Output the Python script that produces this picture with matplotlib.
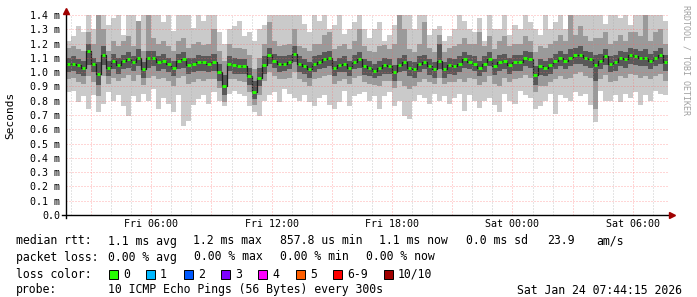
import numpy as np
import matplotlib
matplotlib.use("Agg")
import matplotlib.pyplot as plt
from matplotlib.patches import Rectangle

# 120 samples, 15 min each, starting Fri 01:45 (hours since Fri 00:00)
start_hour = 1.75
step_hour = 0.25

median_ms = [
    1.06, 1.06, 1.05, 1.03, 1.15, 1.06, 0.99, 1.12, 1.03, 1.08, 1.05, 1.08, 1.09, 1.07, 1.1,
    1.02, 1.1, 1.1, 1.07, 1.08, 1.06, 1.03, 1.08, 1.09, 1.05, 1.06, 1.07, 1.07, 1.06, 1.07,
    1.0, 0.9, 1.06, 1.05, 1.04, 1.04, 0.97, 0.86, 0.96, 1.05, 1.12, 1.08, 1.06, 1.06, 1.07,
    1.13, 1.06, 1.04, 1.02, 1.06, 1.07, 1.09, 1.1, 1.03, 1.05, 1.06, 1.03, 1.07, 1.09, 1.04,
    1.03, 1.01, 1.03, 1.05, 1.04, 1.0, 1.05, 1.07, 1.03, 1.02, 1.06, 1.07, 1.04, 1.02, 1.08,
    1.02, 1.05, 1.04, 1.06, 1.09, 1.07, 1.06, 1.03, 1.06, 1.09, 1.04, 1.07, 1.08, 1.05, 1.07,
    1.07, 1.1, 1.09, 0.98, 1.04, 1.03, 1.05, 1.08, 1.1, 1.08, 1.1, 1.12, 1.12, 1.1, 1.09,
    1.05, 1.08, 1.11, 1.06, 1.07, 1.1, 1.09, 1.12, 1.11, 1.1, 1.1, 1.08, 1.1, 1.12, 1.07,
]

# outer smoke (fastest / slowest ping)
smoke_lo1 = [
    0.86, 0.87, 0.79, 0.83, 0.74, 0.84, 0.72, 0.78, 0.86, 0.8, 0.84, 0.76, 0.69, 0.83, 0.79,
    0.85, 0.8, 0.88, 0.74, 0.82, 0.78, 0.72, 0.84, 0.62, 0.66, 0.77, 0.81, 0.84, 0.78, 0.86,
    0.8, 0.76, 0.85, 0.87, 0.85, 0.83, 0.76, 0.72, 0.69, 0.8, 0.84, 0.86, 0.79, 0.88, 0.85,
    0.82, 0.8, 0.84, 0.79, 0.76, 0.82, 0.84, 0.77, 0.74, 0.79, 0.87, 0.76, 0.83, 0.85, 0.86,
    0.8, 0.83, 0.74, 0.83, 0.86, 0.76, 0.8, 0.69, 0.67, 0.8, 0.84, 0.82, 0.78, 0.85, 0.8,
    0.83, 0.78, 0.82, 0.85, 0.73, 0.84, 0.8, 0.75, 0.8, 0.82, 0.77, 0.72, 0.85, 0.8, 0.78,
    0.87, 0.84, 0.82, 0.74, 0.76, 0.8, 0.85, 0.71, 0.84, 0.82, 0.8, 0.86, 0.83, 0.85, 0.77,
    0.65, 0.87, 0.8, 0.8, 0.84, 0.79, 0.85, 0.82, 0.86, 0.77, 0.84, 0.8, 0.87, 0.85, 0.84,
]
smoke_hi1 = [
    1.22, 1.25, 1.32, 1.28, 1.4, 1.3, 1.4, 1.4, 1.33, 1.38, 1.4, 1.26, 1.4, 1.4, 1.32,
    1.4, 1.4, 1.4, 1.4, 1.35, 1.4, 1.29, 1.4, 1.4, 1.4, 1.31, 1.4, 1.36, 1.4, 1.4,
    1.28, 1.2, 1.3, 1.32, 1.36, 1.25, 1.28, 1.22, 1.3, 1.33, 1.4, 1.4, 1.4, 1.4, 1.4,
    1.4, 1.4, 1.34, 1.28, 1.4, 1.36, 1.4, 1.3, 1.33, 1.4, 1.27, 1.3, 1.35, 1.4, 1.3,
    1.24, 1.3, 1.35, 1.22, 1.26, 1.33, 1.4, 1.4, 1.4, 1.3, 1.4, 1.4, 1.26, 1.3, 1.32,
    1.22, 1.25, 1.3, 1.4, 1.36, 1.3, 1.28, 1.38, 1.22, 1.4, 1.3, 1.3, 1.4, 1.26, 1.33,
    1.3, 1.4, 1.35, 1.3, 1.26, 1.4, 1.3, 1.35, 1.4, 1.3, 1.4, 1.4, 1.4, 1.4, 1.4,
    1.4, 1.4, 1.34, 1.4, 1.4, 1.38, 1.4, 1.33, 1.4, 1.4, 1.4, 1.4, 1.4, 1.4, 1.36,
]

# middle smoke
smoke_lo2 = [
    0.95, 0.96, 0.93, 0.92, 0.97, 0.93, 0.83, 0.97, 0.92, 0.96, 0.94, 0.96, 0.98, 0.94, 0.98,
    0.91, 0.96, 0.97, 0.95, 0.96, 0.94, 0.9, 0.96, 0.97, 0.92, 0.93, 0.95, 0.94, 0.95, 0.95,
    0.89, 0.79, 0.95, 0.95, 0.94, 0.93, 0.86, 0.77, 0.84, 0.94, 1.0, 0.97, 0.95, 0.95, 0.96,
    1.0, 0.95, 0.93, 0.9, 0.95, 0.96, 0.97, 0.98, 0.92, 0.94, 0.95, 0.92, 0.96, 0.97, 0.93,
    0.92, 0.91, 0.9, 0.94, 0.94, 0.89, 0.94, 0.9, 0.88, 0.9, 0.93, 0.95, 0.93, 0.92, 0.96,
    0.92, 0.93, 0.93, 0.95, 0.93, 0.96, 0.95, 0.91, 0.93, 0.97, 0.92, 0.9, 0.96, 0.93, 0.95,
    0.96, 0.98, 0.96, 0.86, 0.9, 0.9, 0.93, 0.95, 0.97, 0.95, 0.96, 0.99, 1.0, 0.97, 0.96,
    0.74, 0.95, 0.98, 0.93, 0.94, 0.97, 0.96, 0.99, 0.98, 0.96, 0.97, 0.95, 0.97, 0.99, 0.94,
]
smoke_hi2 = [
    1.17, 1.18, 1.16, 1.15, 1.28, 1.2, 1.4, 1.3, 1.15, 1.22, 1.18, 1.22, 1.25, 1.18, 1.36,
    1.15, 1.4, 1.24, 1.2, 1.22, 1.18, 1.15, 1.22, 1.24, 1.17, 1.2, 1.21, 1.19, 1.2, 1.3,
    1.15, 1.08, 1.2, 1.17, 1.17, 1.16, 1.12, 1.02, 1.1, 1.2, 1.35, 1.22, 1.18, 1.19, 1.2,
    1.3, 1.18, 1.17, 1.15, 1.2, 1.2, 1.26, 1.28, 1.16, 1.18, 1.2, 1.16, 1.22, 1.3, 1.18,
    1.15, 1.14, 1.18, 1.19, 1.16, 1.2, 1.4, 1.3, 1.16, 1.14, 1.2, 1.35, 1.17, 1.14, 1.26,
    1.14, 1.17, 1.18, 1.2, 1.24, 1.2, 1.2, 1.28, 1.18, 1.25, 1.16, 1.22, 1.25, 1.18, 1.2,
    1.2, 1.25, 1.22, 1.14, 1.18, 1.17, 1.2, 1.22, 1.26, 1.22, 1.4, 1.26, 1.32, 1.25, 1.22,
    1.24, 1.24, 1.28, 1.2, 1.22, 1.26, 1.22, 1.28, 1.28, 1.25, 1.4, 1.22, 1.28, 1.3, 1.2,
]

# inner smoke (pings around the median)
smoke_lo3 = [
    1.0, 1.01, 0.99, 0.97, 1.05, 1.0, 0.91, 1.05, 0.97, 1.02, 0.99, 1.02, 1.03, 1.01, 1.04,
    0.96, 1.03, 1.04, 1.01, 1.02, 1.0, 0.97, 1.02, 1.03, 0.99, 1.0, 1.01, 1.01, 1.0, 1.01,
    0.94, 0.84, 1.01, 0.99, 0.99, 0.99, 0.91, 0.81, 0.9, 0.99, 1.06, 1.03, 1.0, 1.01, 1.02,
    1.07, 1.0, 0.99, 0.96, 1.0, 1.02, 1.03, 1.04, 0.97, 1.0, 1.0, 0.97, 1.02, 1.03, 0.98,
    0.97, 0.96, 0.97, 0.99, 0.99, 0.94, 1.0, 1.01, 0.97, 0.96, 1.0, 1.02, 0.98, 0.96, 1.02,
    0.96, 0.99, 0.98, 1.0, 1.03, 1.02, 1.01, 0.97, 1.0, 1.04, 0.98, 1.01, 1.02, 0.99, 1.01,
    1.01, 1.04, 1.03, 0.91, 0.98, 0.97, 0.99, 1.02, 1.04, 1.02, 1.04, 1.06, 1.06, 1.04, 1.03,
    0.94, 1.02, 1.05, 1.0, 1.01, 1.04, 1.03, 1.06, 1.05, 1.04, 1.04, 1.02, 1.04, 1.06, 1.01,
]
smoke_hi3 = [
    1.1, 1.11, 1.09, 1.08, 1.2, 1.1, 1.07, 1.18, 1.08, 1.13, 1.1, 1.12, 1.14, 1.11, 1.16,
    1.07, 1.15, 1.15, 1.11, 1.13, 1.1, 1.08, 1.13, 1.14, 1.1, 1.1, 1.12, 1.11, 1.11, 1.13,
    1.06, 0.98, 1.11, 1.1, 1.09, 1.09, 1.03, 0.94, 1.03, 1.11, 1.17, 1.13, 1.11, 1.11, 1.12,
    1.18, 1.11, 1.09, 1.07, 1.11, 1.12, 1.14, 1.15, 1.08, 1.1, 1.11, 1.08, 1.12, 1.14, 1.09,
    1.08, 1.06, 1.08, 1.1, 1.09, 1.05, 1.1, 1.12, 1.08, 1.07, 1.11, 1.12, 1.09, 1.07, 1.2,
    1.07, 1.1, 1.09, 1.11, 1.14, 1.12, 1.11, 1.08, 1.11, 1.14, 1.09, 1.12, 1.13, 1.1, 1.12,
    1.12, 1.15, 1.14, 1.04, 1.09, 1.08, 1.1, 1.13, 1.15, 1.13, 1.16, 1.17, 1.18, 1.15, 1.14,
    1.12, 1.13, 1.16, 1.11, 1.12, 1.15, 1.14, 1.17, 1.16, 1.15, 1.16, 1.13, 1.15, 1.17, 1.12,
]

y_ticks = [0.0, 0.1, 0.2, 0.3, 0.4, 0.5, 0.6, 0.7, 0.8, 0.9, 1.0, 1.1, 1.2, 1.3, 1.4]
x_ticks = [6, 12, 18, 24, 30]
x_tick_labels = ["Fri 06:00", "Fri 12:00", "Fri 18:00", "Sat 00:00", "Sat 06:00"]

loss_labels = ["0", "1", "2", "3", "4", "5", "6-9", "10/10"]
loss_colors = ["#26ff00", "#00b8ff", "#0059ff", "#7e00ff", "#ff00ff", "#ff5e00", "#ff0000", "#a10000"]

MONO = "DejaVu Sans Mono"
W, H = 697, 297


def ext(values):
    # repeat last value so step fills cover the last interval
    return np.append(values, values[-1])


def px_text(fig, x, y, s, **kw):
    fig.text(x / W, 1 - y / H, s, family=MONO, va="center", **kw)


fig = plt.figure(figsize=(W / 100, H / 100), dpi=100)
fig.patch.set_facecolor("white")
ax = fig.add_axes([66 / W, 82 / H, 602 / W, 200 / H])

n = len(median_ms)
t = start_hour + step_hour * np.arange(n + 1)
end_hour = t[-1]

ax.fill_between(t, ext(smoke_lo1), ext(smoke_hi1), step="post", color="#cacaca", lw=0, zorder=1)
ax.fill_between(t, ext(smoke_lo2), ext(smoke_hi2), step="post", color="#9a9a9a", lw=0, zorder=2)
ax.fill_between(t, ext(smoke_lo3), ext(smoke_hi3), step="post", color="#585858", lw=0, zorder=3)
ax.step(t, ext(median_ms), where="post", color="#1e1e1e", lw=0.9, zorder=4)
ax.hlines(median_ms, t[:-1] + 0.04, t[:-1] + 0.21, color=loss_colors[0], lw=2.1, zorder=6)

# grid: pink dotted major lines every 0.1 / 3h, light gray dotted minor every hour
dots = (0, (1, 2))
for y in y_ticks[1:]:
    ax.axhline(y, color="#ff5f5f", alpha=0.5, lw=0.72, ls=dots, zorder=5)
for h in range(2, 32):
    if h % 3 == 0:
        ax.axvline(h, color="#ff5f5f", alpha=0.5, lw=0.72, ls=dots, zorder=5)
    else:
        ax.axvline(h, color="#a8a8a8", alpha=0.6, lw=0.72, ls=dots, zorder=5)

ax.set_xlim(start_hour, end_hour)
ax.set_ylim(0, 1.4)
ax.set_yticks(y_ticks)
ax.set_yticklabels(["0.0"] + ["%.1f m" % v for v in y_ticks[1:]], family=MONO, fontsize=7.2)
ax.set_xticks(x_ticks)
ax.set_xticklabels(x_tick_labels, family=MONO, fontsize=7.2)
ax.tick_params(axis="both", length=0, pad=4)
ax.tick_params(axis="x", pad=3)
for s in ax.spines.values():
    s.set_visible(False)

# axes with arrow heads
ax.plot([0, 0], [-0.015, 1.0], transform=ax.transAxes, color="black", lw=1, clip_on=False, zorder=7)
ax.plot([-0.007, 1.006], [0, 0], transform=ax.transAxes, color="black", lw=1, clip_on=False, zorder=7)
ax.plot([0], [1.02], marker="^", ms=4, color="#a00000", transform=ax.transAxes, clip_on=False, zorder=8)
ax.plot([1.007], [0], marker=">", ms=4, color="#a00000", transform=ax.transAxes, clip_on=False, zorder=8)

fig.text(10 / W, 1 - 115 / H, "Seconds", rotation=90, family=MONO, fontsize=8, va="center", ha="center")
fig.text(686 / W, 1 - 60 / H, "RRDTOOL / TOBI OETIKER", rotation=270, family=MONO, fontsize=6,
         color="#a0a0a0", va="center", ha="center")

fs = 8.3
row1 = [(16, "median rtt:"), (108, "1.1 ms avg"), (193, "1.2 ms max"), (280, "857.8 us min"),
        (379, "1.1 ms now"), (466, "0.0 ms sd"), (547, "23.9"), (596, "am/s")]
row2 = [(16, "packet loss:"), (108, "0.00 % avg"), (194, "0.00 % max"), (280, "0.00 % min"),
        (366, "0.00 % now")]
for x, s in row1:
    px_text(fig, x, 241, s, fontsize=fs)
for x, s in row2:
    px_text(fig, x, 257, s, fontsize=fs)

px_text(fig, 16, 274, "loss color:", fontsize=fs)
box_x = [109, 146, 184, 221, 258, 296, 333, 384]
for bx, lab, col in zip(box_x, loss_labels, loss_colors):
    fig.patches.append(Rectangle((bx / W, 1 - 279 / H), 9 / W, 9 / H, transform=fig.transFigure,
                                 facecolor=col, edgecolor="black", lw=0.7))
    px_text(fig, bx + 14, 274, lab, fontsize=fs)

px_text(fig, 16, 290, "probe:", fontsize=fs)
px_text(fig, 108, 290, "10 ICMP Echo Pings (56 Bytes) every 300s", fontsize=fs)
px_text(fig, 682, 290, "Sat Jan 24 07:44:15 2026", fontsize=fs, ha="right")

fig.savefig("out.png", dpi=100, facecolor="white")
plt.close(fig)
